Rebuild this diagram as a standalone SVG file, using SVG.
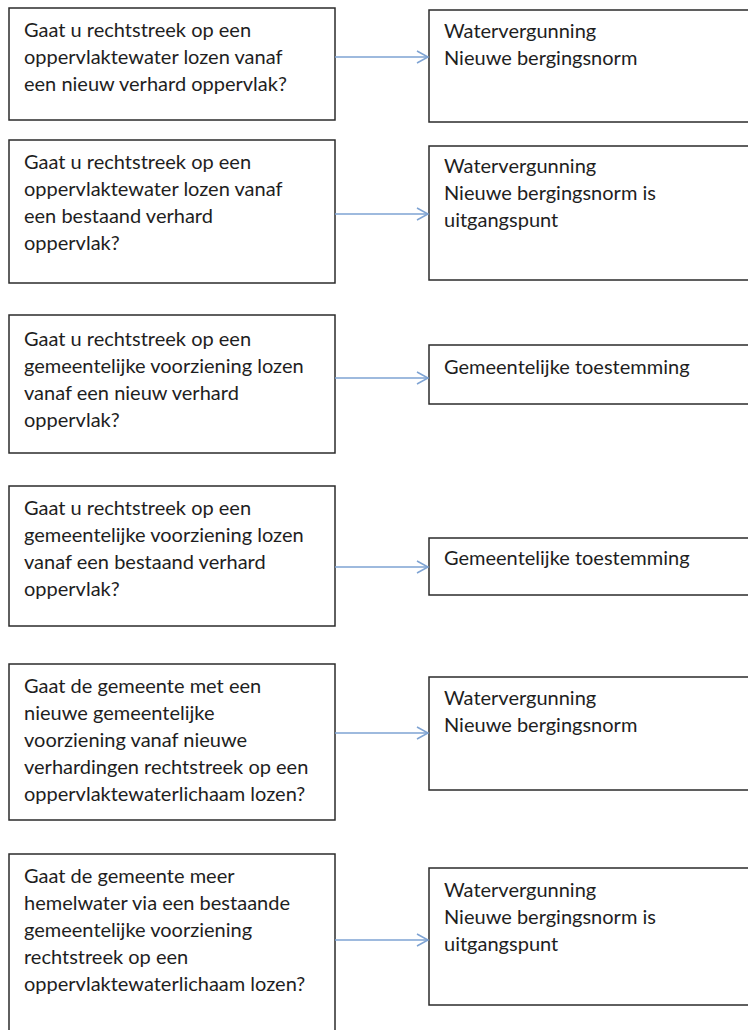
<svg xmlns="http://www.w3.org/2000/svg" width="748" height="1030" viewBox="0 0 748 1030">
<style>
.box{fill:#fff;stroke:#2b2b2b;stroke-width:1.5}
.t{font-family:Lato,"Open Sans","Liberation Sans",sans-serif;font-size:20px;fill:#1e1e1e}
.c{stroke:#7ea3d3;stroke-width:1.5;fill:none}
</style>
<defs>
<marker id="ah" markerWidth="14" markerHeight="16" refX="12" refY="7" orient="auto" markerUnits="userSpaceOnUse">
<path d="M1,1 L12,7 L1,13" fill="none" stroke="#7ea3d3" stroke-width="1.5"/>
</marker>
</defs>
<rect width="748" height="1030" fill="#fff"/>
<g id="q1"><rect class="box" x="9" y="8" width="326" height="112"/>
<text class="t" x="24"><tspan x="24" y="37">Gaat u rechtstreek op een</tspan><tspan x="24" y="64">oppervlaktewater lozen vanaf</tspan><tspan x="24" y="91">een nieuw verhard oppervlak?</tspan></text></g>
<g id="a1"><rect class="box" x="429" y="10" width="330" height="112"/>
<text class="t"><tspan x="444" y="38">Watervergunning</tspan><tspan x="444" y="65">Nieuwe bergingsnorm</tspan></text></g>
<g id="q2"><rect class="box" x="9" y="140" width="326" height="143"/>
<text class="t"><tspan x="24" y="169">Gaat u rechtstreek op een</tspan><tspan x="24" y="196">oppervlaktewater lozen vanaf</tspan><tspan x="24" y="223">een bestaand verhard</tspan><tspan x="24" y="250">oppervlak?</tspan></text></g>
<g id="a2"><rect class="box" x="429" y="146" width="330" height="134"/>
<text class="t"><tspan x="444" y="173">Watervergunning</tspan><tspan x="444" y="200">Nieuwe bergingsnorm is</tspan><tspan x="444" y="227">uitgangspunt</tspan></text></g>
<g id="q3"><rect class="box" x="9" y="315" width="326" height="138"/>
<text class="t"><tspan x="24" y="346">Gaat u rechtstreek op een</tspan><tspan x="24" y="373">gemeentelijke voorziening lozen</tspan><tspan x="24" y="400">vanaf een nieuw verhard</tspan><tspan x="24" y="427">oppervlak?</tspan></text></g>
<g id="a3"><rect class="box" x="429" y="345" width="330" height="59"/>
<text class="t"><tspan x="444" y="374">Gemeentelijke toestemming</tspan></text></g>
<g id="q4"><rect class="box" x="9" y="486" width="326" height="140"/>
<text class="t"><tspan x="24" y="515">Gaat u rechtstreek op een</tspan><tspan x="24" y="542">gemeentelijke voorziening lozen</tspan><tspan x="24" y="569">vanaf een bestaand verhard</tspan><tspan x="24" y="596">oppervlak?</tspan></text></g>
<g id="a4"><rect class="box" x="429" y="538" width="330" height="57"/>
<text class="t"><tspan x="444" y="565">Gemeentelijke toestemming</tspan></text></g>
<g id="q5"><rect class="box" x="9" y="664" width="326" height="156"/>
<text class="t"><tspan x="24" y="693">Gaat de gemeente met een</tspan><tspan x="24" y="720">nieuwe gemeentelijke</tspan><tspan x="24" y="747">voorziening vanaf nieuwe</tspan><tspan x="24" y="774">verhardingen rechtstreek op een</tspan><tspan x="24" y="801">oppervlaktewaterlichaam lozen?</tspan></text></g>
<g id="a5"><rect class="box" x="429" y="677" width="330" height="113"/>
<text class="t"><tspan x="444" y="705">Watervergunning</tspan><tspan x="444" y="732">Nieuwe bergingsnorm</tspan></text></g>
<g id="q6"><rect class="box" x="9" y="854" width="326" height="200"/>
<text class="t"><tspan x="24" y="883">Gaat de gemeente meer</tspan><tspan x="24" y="910">hemelwater via een bestaande</tspan><tspan x="24" y="937">gemeentelijke voorziening</tspan><tspan x="24" y="964">rechtstreek op een</tspan><tspan x="24" y="991">oppervlaktewaterlichaam lozen?</tspan></text></g>
<g id="a6"><rect class="box" x="429" y="868" width="330" height="137"/>
<text class="t"><tspan x="444" y="897">Watervergunning</tspan><tspan x="444" y="924">Nieuwe bergingsnorm is</tspan><tspan x="444" y="951">uitgangspunt</tspan></text></g>
<g id="connectors">
<line class="c" x1="335" y1="57" x2="428" y2="57" marker-end="url(#ah)"/>
<line class="c" x1="335" y1="214" x2="428" y2="214" marker-end="url(#ah)"/>
<line class="c" x1="335" y1="378" x2="428" y2="378" marker-end="url(#ah)"/>
<line class="c" x1="335" y1="567" x2="428" y2="567" marker-end="url(#ah)"/>
<line class="c" x1="335" y1="733" x2="428" y2="733" marker-end="url(#ah)"/>
<line class="c" x1="335" y1="940" x2="428" y2="940" marker-end="url(#ah)"/>
</g>
</svg>
